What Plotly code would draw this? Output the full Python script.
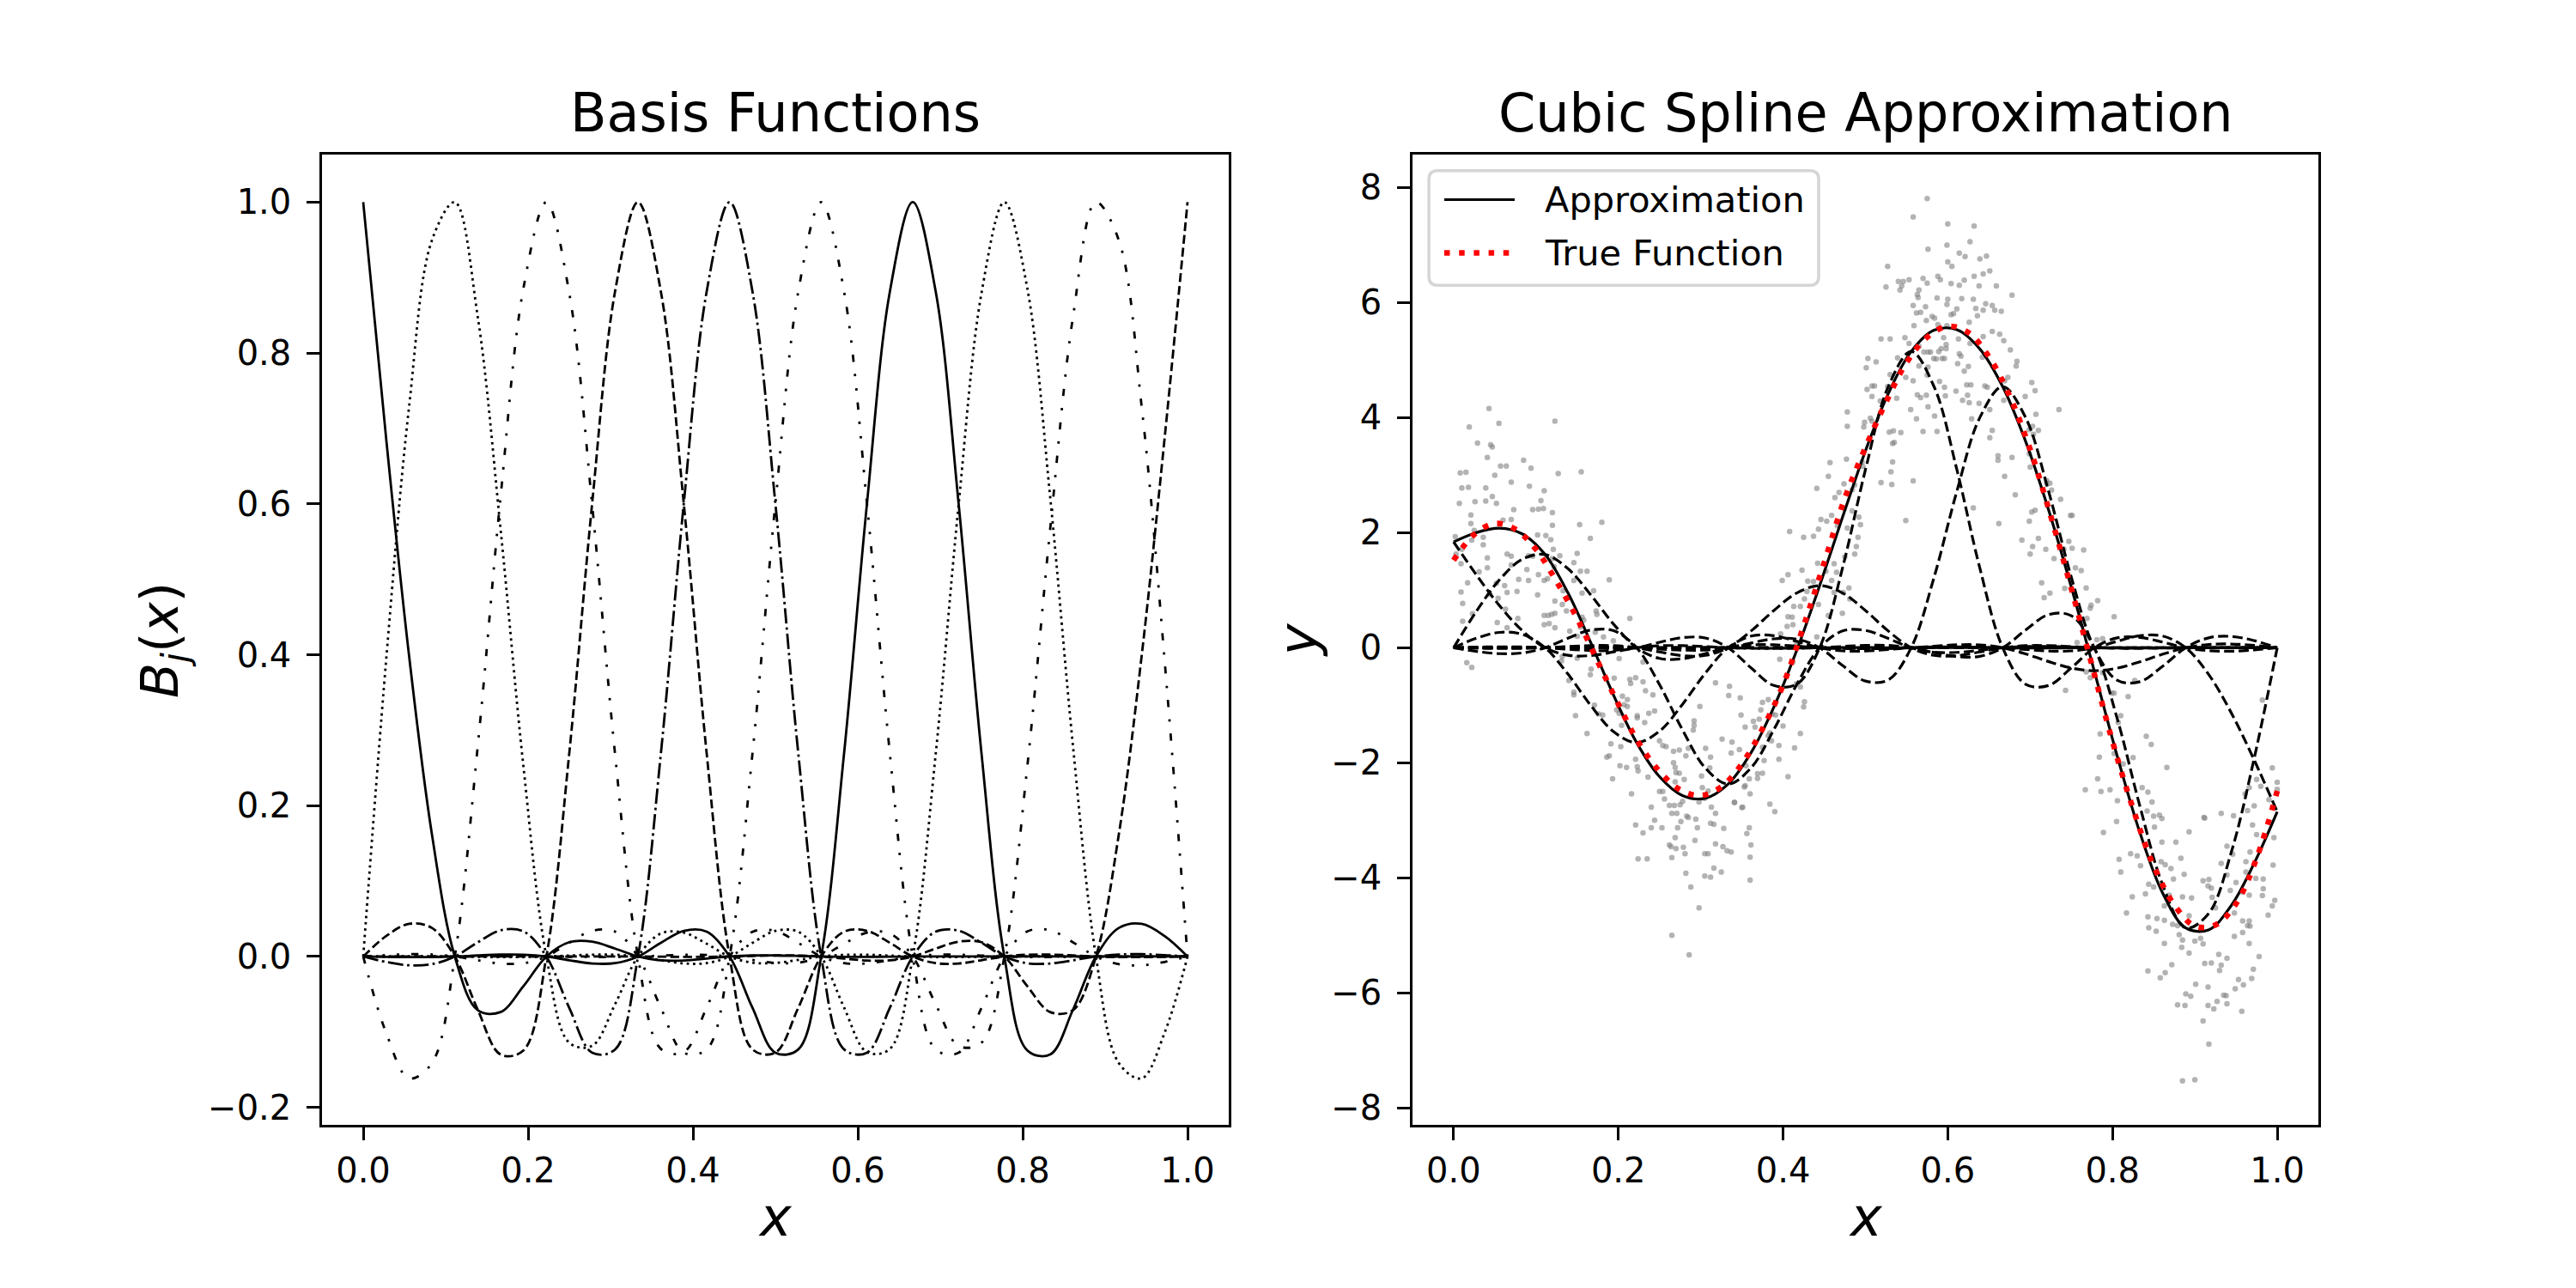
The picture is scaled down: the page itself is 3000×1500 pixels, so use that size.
import plotly.graph_objects as go

# sample positions of the basis curves (knots at j/9, sampled every quarter knot)
x_grid = [i / 36 for i in range(37)]

B0 = [1, 0.6872, 0.3995, 0.1621, 0, -0.0711, -0.0736, -0.0392, 0, 0.0190, 0.0197, 0.0105, 0, -0.0051, -0.0053, -0.0028,
      0, 0.0014, 0.0014, 0.0008, 0, -0.0004, -0.0004, -0.0002, 0, 0.0001, 0.0001, 0.0001, 0, 0, 0, 0, 0, 0, 0, 0, 0]
B1 = [0, 0.3924, 0.7279, 0.9494, 1, 0.8484, 0.5663, 0.2511, 0, -0.1143, -0.1183, -0.0631, 0, 0.0306, 0.0317, 0.0169,
      0, -0.0082, -0.0085, -0.0045, 0, 0.0022, 0.0023, 0.0012, 0, -0.0006, -0.0006, -0.0003, 0, 0.0002, 0.0002, 0.0001, 0, 0, 0, 0, 0]
B2 = [0, -0.1010, -0.1615, -0.1413, 0, 0.2781, 0.6096, 0.8863, 1, 0.8791, 0.5980, 0.2680, 0, -0.1225, -0.1267, -0.0676,
      0, 0.0328, 0.0340, 0.0181, 0, -0.0088, -0.0091, -0.0049, 0, 0.0024, 0.0024, 0.0013, 0, -0.0006, -0.0007, -0.0004, 0, 0.0002, 0.0002, 0.0001, 0]
B3 = [0, 0.0271, 0.0433, 0.0379, 0, -0.0703, -0.1299, -0.1244, 0, 0.2699, 0.6011, 0.8818, 1, 0.8813, 0.6003, 0.2692,
      0, -0.1231, -0.1274, -0.0679, 0, 0.0330, 0.0341, 0.0182, 0, -0.0088, -0.0092, -0.0049, 0, 0.0024, 0.0025, 0.0014, 0, -0.0007, -0.0008, -0.0005, 0]
B4 = [0, -0.0072, -0.0116, -0.0101, 0, 0.0188, 0.0348, 0.0333, 0, -0.0681, -0.1276, -0.1232, 0, 0.2693, 0.6005, 0.8815,
      1, 0.8814, 0.6005, 0.2693, 0, -0.1231, -0.1274, -0.0680, 0, 0.0330, 0.0342, 0.0183, 0, -0.0089, -0.0093, -0.0050, 0, 0.0027, 0.0031, 0.0019, 0]
B5 = [0, 0.0019, 0.0031, 0.0027, 0, -0.0050, -0.0093, -0.0089, 0, 0.0183, 0.0342, 0.0330, 0, -0.0680, -0.1274, -0.1231,
      0, 0.2693, 0.6005, 0.8814, 1, 0.8815, 0.6005, 0.2693, 0, -0.1232, -0.1276, -0.0681, 0, 0.0333, 0.0348, 0.0188, 0, -0.0101, -0.0116, -0.0072, 0]
B6 = [0, -0.0005, -0.0008, -0.0007, 0, 0.0014, 0.0025, 0.0024, 0, -0.0049, -0.0092, -0.0088, 0, 0.0182, 0.0341, 0.0330,
      0, -0.0679, -0.1274, -0.1231, 0, 0.2692, 0.6003, 0.8813, 1, 0.8818, 0.6011, 0.2699, 0, -0.1244, -0.1299, -0.0703, 0, 0.0379, 0.0433, 0.0271, 0]
B7 = [0, 0.0001, 0.0002, 0.0002, 0, -0.0004, -0.0007, -0.0006, 0, 0.0013, 0.0024, 0.0024, 0, -0.0049, -0.0091, -0.0088,
      0, 0.0181, 0.0340, 0.0328, 0, -0.0676, -0.1267, -0.1225, 0, 0.2680, 0.5980, 0.8791, 1, 0.8863, 0.6096, 0.2781, 0, -0.1413, -0.1615, -0.1010, 0]
B8 = [0, 0, 0, 0, 0, 0.0001, 0.0002, 0.0002, 0, -0.0003, -0.0006, -0.0006, 0, 0.0012, 0.0023, 0.0022,
      0, -0.0045, -0.0085, -0.0082, 0, 0.0169, 0.0317, 0.0306, 0, -0.0631, -0.1183, -0.1143, 0, 0.2511, 0.5663, 0.8484, 1, 0.9494, 0.7279, 0.3924, 0]
B9 = [0, 0, 0, 0, 0, 0, 0, 0, 0, 0.0001, 0.0001, 0.0001, 0, -0.0002, -0.0004, -0.0004,
      0, 0.0008, 0.0014, 0.0014, 0, -0.0028, -0.0053, -0.0051, 0, 0.0105, 0.0197, 0.0190, 0, -0.0392, -0.0736, -0.0711, 0, 0.1621, 0.3995, 0.6872, 1]
basis = [B0, B1, B2, B3, B4, B5, B6, B7, B8, B9]

# fitted coefficients (value of the approximation at each knot)
coefs = [1.84, 1.62, -1.65, -2.37, 1.08, 5.15, 4.54, -0.40, -4.87, -2.85]

# true function
true_x = [i / 40 for i in range(41)]
true_y = [1.52, 1.97, 2.16, 2.06, 1.71, 1.15, 0.51, -0.24, -0.98, -1.66, -2.15, -2.47, -2.57, -2.42, -2.02, -1.41,
          -0.65, 0.38, 1.48, 2.60, 3.48, 4.27, 4.96, 5.40, 5.59, 5.48, 5.06, 4.38, 3.45, 2.29, 1.03, -0.30,
          -1.63, -2.80, -3.79, -4.47, -4.84, -4.82, -4.45, -3.66, -2.49]

# noisy observations
samples = [
    (0.043, 4.16), (0.019, 3.84), (0.055, 3.90), (0.123, 3.94), (0.029, 3.56), (0.045, 3.53), (0.047, 3.49), (0.041, 3.31),
    (0.085, 3.26), (0.008, 3.04), (0.015, 3.05), (0.057, 3.16), (0.064, 3.16), (0.094, 3.12), (0.127, 3.03), (0.155, 3.06),
    (0.050, 3.00), (0.070, 2.88), (0.010, 2.78), (0.018, 2.79), (0.039, 2.78), (0.092, 2.81), (0.110, 2.73), (0.047, 2.63),
    (0.026, 2.54), (0.039, 2.55), (0.052, 2.51), (0.106, 2.56), (0.007, 2.51), (0.073, 2.40), (0.096, 2.40), (0.103, 2.41),
    (0.109, 2.42), (0.120, 2.35), (0.021, 2.31), (0.180, 2.18), (0.153, 2.14), (0.120, 2.13), (0.070, 2.23), (0.021, 2.16),
    (0.025, 2.04), (0.060, 2.22), (0.166, 1.90), (0.102, 1.96), (0.112, 1.95), (0.118, 1.88), (0.002, 1.93), (0.022, 1.87),
    (0.036, 1.92), (0.036, 1.79), (0.010, 1.71), (0.003, 1.63), (0.009, 1.46), (0.041, 1.56), (0.065, 1.63), (0.070, 1.59),
    (0.091, 1.60), (0.096, 1.59), (0.150, 1.64), (0.129, 1.60), (0.120, 1.55), (0.146, 1.48), (0.154, 1.33), (0.162, 1.33),
    (0.041, 1.39), (0.031, 1.32), (0.070, 1.44), (0.089, 1.36), (0.103, 1.27), (0.121, 1.71), (0.122, 1.41), (0.079, 1.19),
    (0.091, 1.17), (0.110, 1.17), (0.114, 1.20), (0.189, 1.18), (0.017, 1.13), (0.062, 1.08), (0.052, 1.12), (0.146, 1.17),
    (0.156, 0.95), (0.170, 0.99), (0.054, 0.86), (0.065, 0.96), (0.077, 0.98), (0.102, 0.92), (0.133, 0.99), (0.009, 0.97),
    (0.011, 0.77), (0.044, 0.93), (0.123, 0.81), (0.132, 0.75), (0.137, 0.64), (0.023, 0.59), (0.011, 0.46), (0.063, 0.67),
    (0.110, 0.56), (0.115, 0.56), (0.119, 0.58), (0.123, 0.60), (0.156, 0.53), (0.158, 0.48), (0.173, 0.64), (0.174, 0.58),
    (0.214, 0.51), (0.110, 0.40), (0.116, 0.42), (0.078, 0.51), (0.053, 0.44), (0.065, 0.35), (0.141, 0.29), (0.154, 0.36),
    (0.123, 0.35), (0.172, 0.27), (0.150, 0.20), (0.182, 0.19), (0.194, 0.12),
    (0.441, 0.19), (0.426, 0.85), (0.429, 0.98), (0.399, 1.17), (0.406, 1.27), (0.423, 1.35), (0.430, 1.16), (0.437, 1.15),
    (0.442, 1.47), (0.452, 1.33), (0.459, 1.17), (0.465, 1.31), (0.462, 1.46), (0.475, 1.58), (0.487, 1.63), (0.489, 1.76),
    (0.425, 1.92), (0.437, 1.94), (0.443, 2.06), (0.408, 2.02), (0.446, 2.23), (0.453, 2.20), (0.441, 2.77), (0.455, 2.98),
    (0.457, 3.22), (0.477, 3.28), (0.487, 2.83), (0.484, 2.75), (0.474, 2.85), (0.468, 2.70), (0.463, 2.61), (0.459, 2.30),
    (0.466, 2.12), (0.484, 2.38), (0.492, 2.27), (0.494, 2.14), (0.478, 2.08), (0.491, 1.92), (0.496, 3.23), (0.497, 3.15),
    (0.478, 3.85), (0.478, 4.10), (0.498, 3.84), (0.499, 3.92), (0.472, 0.60), (0.473, 0.96), (0.480, 1.04), (0.481, 0.85),
    (0.443, 0.75), (0.455, 0.56), (0.462, 0.96), (0.413, 0.72), (0.421, 0.72), (0.411, 0.53), (0.406, 0.54), (0.412, 0.40),
    (0.405, 0.37), (0.397, 0.24), (0.416, 0.05),
    (0.016, -0.26), (0.022, -0.34), (0.131, -0.23), (0.140, -0.57), (0.146, -0.77), (0.146, -0.82), (0.148, -1.18), (0.162, -1.49),
    (0.167, -0.37), (0.166, -0.47), (0.150, -0.18), (0.171, -1.00), (0.181, -1.17), (0.176, -1.15), (0.195, -0.53), (0.201, -0.19),
    (0.230, -0.25), (0.233, -0.75), (0.242, -0.82), (0.214, -0.55), (0.215, -0.62), (0.221, -0.52), (0.230, -0.59), (0.205, -0.84),
    (0.211, -0.90), (0.207, -0.99), (0.211, -1.02), (0.198, -1.08), (0.201, -1.14), (0.223, -1.18), (0.223, -1.22), (0.232, -1.30),
    (0.237, -1.14), (0.244, -1.10), (0.204, -1.35), (0.191, -1.67), (0.203, -1.72), (0.189, -1.88), (0.186, -1.90), (0.202, -2.05),
    (0.210, -2.08), (0.221, -1.94), (0.223, -2.07), (0.224, -2.14), (0.193, -2.28), (0.236, -2.25), (0.250, -1.62), (0.254, -1.70),
    (0.258, -1.72), (0.267, -1.80), (0.274, -1.78), (0.285, -1.75), (0.282, -1.88), (0.292, -1.27), (0.291, -1.43), (0.292, -1.35),
    (0.299, -1.02), (0.306, -1.75), (0.312, -1.90), (0.267, -2.00), (0.269, -2.08), (0.270, -2.17), (0.274, -2.18), (0.280, -2.29),
    (0.269, -2.33), (0.301, -2.23), (0.311, -2.09), (0.338, -1.64), (0.337, -1.83), (0.347, -1.77), (0.326, -1.59), (0.355, -2.05),
    (0.359, -2.28), (0.349, -1.17), (0.348, -0.87), (0.334, -0.83), (0.335, -0.67), (0.318, -0.61), (0.354, -1.38), (0.364, -1.28),
    (0.366, -1.38), (0.371, -1.24), (0.373, -1.08), (0.375, -0.95), (0.382, -0.90), (0.387, -1.15), (0.384, -1.48), (0.382, -1.53),
    (0.375, -1.73), (0.377, -1.96), (0.386, -1.62), (0.391, -1.17), (0.395, -1.70), (0.395, -1.94), (0.400, -1.36), (0.396, -0.20),
    (0.414, -1.74), (0.421, -1.49), (0.425, -1.03), (0.426, -0.94), (0.406, -2.24), (0.369, -2.19), (0.369, -2.27), (0.375, -2.18),
    (0.360, -2.54), (0.354, -2.40), (0.384, -2.72), (0.390, -2.85), (0.341, -2.69), (0.351, -2.77), (0.216, -2.54), (0.221, -3.08),
    (0.230, -3.22), (0.240, -3.13), (0.244, -3.00), (0.240, -2.77), (0.253, -3.13), (0.250, -2.50), (0.254, -2.50), (0.256, -2.63),
    (0.262, -2.74), (0.268, -2.74), (0.265, -2.88), (0.271, -2.88), (0.275, -2.73), (0.278, -2.67), (0.283, -2.93), (0.285, -2.95),
    (0.294, -2.98), (0.276, -3.02), (0.272, -3.13), (0.296, -3.13), (0.269, -3.30), (0.262, -3.43), (0.264, -3.46), (0.270, -3.49),
    (0.279, -3.47), (0.281, -3.58), (0.265, -3.65), (0.224, -3.67), (0.235, -3.67), (0.293, -3.35), (0.305, -3.58), (0.309, -3.58),
    (0.318, -3.41), (0.327, -3.46), (0.332, -3.53), (0.337, -3.55), (0.328, -3.14), (0.312, -3.05), (0.316, -3.07), (0.318, -2.88),
    (0.313, -2.77), (0.359, -3.13), (0.356, -3.23), (0.361, -3.43), (0.360, -3.64), (0.360, -4.04), (0.316, -3.83), (0.325, -3.90),
    (0.305, -3.97), (0.312, -3.99), (0.282, -3.92), (0.288, -4.16), (0.298, -4.52), (0.265, -5.00), (0.286, -5.34), (0.305, -2.62),
    (0.298, -2.68), (0.302, -2.43), (0.309, -2.49), (0.341, -2.69), (0.353, -2.42), (0.350, -2.78), (0.132, -0.15), (0.421, -0.68),
    (0.416, -0.63), (0.412, -0.25),
    (0.575, 7.81), (0.558, 7.49), (0.600, 7.37), (0.632, 7.33), (0.627, 7.06), (0.576, 6.93), (0.599, 7.00), (0.614, 6.86),
    (0.621, 6.80), (0.639, 6.76), (0.647, 6.81), (0.605, 6.63), (0.600, 6.71), (0.527, 6.63), (0.525, 6.27), (0.540, 6.37),
    (0.546, 6.37), (0.553, 6.40), (0.542, 6.22), (0.544, 6.29), (0.570, 6.42), (0.575, 6.34), (0.588, 6.46), (0.591, 6.40),
    (0.604, 6.33), (0.614, 6.30), (0.620, 6.39), (0.638, 6.29), (0.651, 6.55), (0.643, 6.50), (0.632, 6.46), (0.659, 6.29),
    (0.678, 6.13), (0.565, 6.22), (0.563, 6.14), (0.564, 6.09), (0.587, 6.08), (0.600, 6.06), (0.599, 5.97), (0.617, 6.07),
    (0.631, 6.06), (0.558, 5.95), (0.573, 5.93), (0.562, 5.82), (0.567, 5.83), (0.581, 5.76), (0.584, 5.73), (0.574, 5.69),
    (0.607, 5.81), (0.604, 5.79), (0.611, 5.89), (0.634, 5.90), (0.636, 5.77), (0.643, 5.87), (0.646, 5.98), (0.654, 5.95),
    (0.657, 5.87), (0.665, 5.85), (0.626, 5.66), (0.559, 5.60), (0.588, 5.62), (0.599, 5.60), (0.519, 5.37), (0.530, 5.37),
    (0.548, 5.39), (0.553, 5.29), (0.595, 5.39), (0.598, 5.27), (0.613, 5.37), (0.627, 5.29), (0.643, 5.41), (0.654, 5.50),
    (0.663, 5.45), (0.668, 5.34), (0.592, 5.20), (0.589, 5.15), (0.598, 5.20), (0.571, 5.14), (0.576, 5.14), (0.565, 5.24),
    (0.579, 5.14), (0.583, 5.03), (0.586, 5.02), (0.593, 5.03), (0.596, 5.03), (0.614, 5.11), (0.616, 5.07), (0.676, 5.18),
    (0.503, 5.03), (0.513, 4.97), (0.501, 4.87), (0.539, 5.04), (0.530, 4.75), (0.527, 4.54), (0.549, 4.70), (0.558, 4.64),
    (0.565, 4.90), (0.575, 4.74), (0.576, 4.88), (0.620, 4.81), (0.625, 4.89), (0.612, 4.94), (0.642, 5.05), (0.684, 4.98),
    (0.683, 4.90), (0.590, 4.63), (0.596, 4.53), (0.610, 4.46), (0.623, 4.57), (0.628, 4.57), (0.645, 4.55), (0.648, 4.53),
    (0.673, 4.70), (0.669, 4.64), (0.702, 4.61), (0.706, 4.47), (0.502, 4.49), (0.508, 4.55), (0.511, 4.55), (0.508, 4.37),
    (0.518, 4.29), (0.538, 4.34), (0.563, 4.40), (0.567, 4.35), (0.574, 4.39), (0.597, 4.38), (0.618, 4.30), (0.624, 4.39),
    (0.626, 4.26), (0.638, 4.25), (0.651, 4.14), (0.668, 4.30), (0.694, 4.37), (0.735, 4.14), (0.555, 4.14), (0.576, 4.19),
    (0.584, 4.03), (0.562, 3.98), (0.506, 3.99), (0.508, 3.94), (0.529, 3.75), (0.534, 3.77), (0.543, 3.74), (0.533, 3.55),
    (0.535, 3.57), (0.570, 3.76), (0.587, 3.76), (0.629, 3.98), (0.707, 4.06), (0.699, 3.79), (0.703, 3.85), (0.710, 3.78),
    (0.704, 3.71), (0.654, 3.78), (0.651, 3.65), (0.661, 3.34), (0.661, 3.26), (0.678, 3.31), (0.699, 3.37), (0.700, 3.14),
    (0.669, 2.98), (0.682, 2.66), (0.702, 2.36), (0.706, 2.39), (0.699, 2.20), (0.631, 2.43), (0.662, 2.16), (0.690, 1.87),
    (0.710, 1.90), (0.703, 1.76), (0.700, 1.63), (0.719, 1.71), (0.729, 1.55), (0.741, 1.71), (0.747, 1.85), (0.751, 1.73),
    (0.765, 1.70), (0.714, 1.13), (0.724, 0.95), (0.717, 0.87), (0.737, 2.58), (0.749, 2.30), (0.751, 2.30), (0.755, 1.39),
    (0.762, 1.34), (0.768, 1.04), (0.774, 0.74), (0.782, 0.82), (0.773, 0.69), (0.769, 0.51), (0.802, 0.54), (0.724, 2.86),
    (0.726, 2.74), (0.720, 2.86), (0.720, 2.91), (0.549, 2.21), (0.519, 2.87), (0.532, 2.84), (0.558, 2.90), (0.531, 3.06),
    (0.533, 3.23), (0.757, 0.09), (0.781, 0.14), (0.788, 0.16), (0.742, 1.03),
    (0.743, -0.74), (0.768, -0.42), (0.773, -0.52), (0.788, -0.43), (0.799, -0.79), (0.802, -0.79), (0.819, -0.85), (0.827, -0.57),
    (0.785, -1.50), (0.784, -1.90), (0.782, -2.28), (0.767, -2.47), (0.786, -2.50), (0.797, -2.47), (0.806, -2.66), (0.805, -3.02),
    (0.789, -3.21), (0.802, -1.84), (0.813, -2.02), (0.810, -1.18), (0.807, -1.30), (0.841, -1.54), (0.847, -1.68), (0.825, -1.91),
    (0.836, -2.43), (0.843, -2.51), (0.848, -2.68), (0.842, -2.84), (0.850, -2.93), (0.857, -2.91), (0.860, -2.97), (0.851, -3.12),
    (0.860, -3.38), (0.877, -3.38), (0.866, -2.08), (0.893, -3.20), (0.883, -3.66), (0.887, -3.94), (0.874, -4.02), (0.822, -3.58),
    (0.830, -3.62), (0.808, -3.68), (0.810, -3.90), (0.834, -3.79), (0.859, -3.72), (0.864, -3.77), (0.871, -3.84), (0.844, -4.11),
    (0.850, -4.16), (0.840, -4.28), (0.824, -4.33), (0.817, -4.61), (0.843, -4.68), (0.854, -4.71), (0.863, -4.74), (0.873, -4.81),
    (0.863, -4.49), (0.869, -4.30), (0.885, -4.33), (0.896, -4.35), (0.910, -4.05), (0.917, -4.03), (0.916, -4.14), (0.920, -4.18),
    (0.911, -2.95), (0.932, -2.88), (0.947, -2.92), (0.939, -3.45), (0.946, -3.59), (0.932, -3.75), (0.939, -3.95), (0.950, -4.08),
    (0.925, -4.52), (0.921, -4.34), (0.943, -4.22), (0.948, -4.61), (0.958, -4.75), (0.966, -4.75), (0.964, -4.83), (0.967, -4.84),
    (0.958, -4.95), (0.948, -5.02), (0.966, -5.14), (0.978, -5.37), (0.971, -5.59), (0.969, -5.75), (0.959, -5.86), (0.953, -5.77),
    (0.949, -5.93), (0.939, -6.19), (0.957, -6.32), (0.935, -6.04), (0.938, -6.05), (0.932, -5.52), (0.930, -5.61), (0.927, -6.15),
    (0.923, -6.28), (0.916, -6.22), (0.910, -6.49), (0.917, -6.89), (0.916, -5.90), (0.901, -5.85), (0.895, -6.06), (0.889, -6.02),
    (0.888, -6.22), (0.879, -6.21), (0.872, -5.51), (0.864, -5.65), (0.858, -5.74), (0.843, -5.62), (0.920, -5.48), (0.912, -5.49),
    (0.929, -5.33), (0.939, -5.40), (0.893, -5.31), (0.910, -5.15), (0.900, -5.10), (0.907, -5.05), (0.884, -5.21), (0.885, -5.08),
    (0.881, -4.99), (0.879, -4.83), (0.853, -4.93), (0.844, -4.87), (0.863, -5.14), (0.958, -4.25), (0.962, -3.90), (0.962, -3.72),
    (0.967, -3.55), (0.975, -3.25), (0.970, -3.08), (0.964, -2.83), (0.972, -2.75), (0.961, -2.54), (0.966, -2.43), (0.975, -2.29),
    (0.980, -2.41), (0.982, -0.91), (0.994, -2.09), (1.000, -2.34), (1.000, -2.46), (0.990, -2.64), (0.996, -3.30), (0.995, -3.78),
    (0.997, -4.39), (0.994, -4.49), (0.989, -4.65), (0.982, -4.31), (0.983, -4.19), (0.983, -4.02), (0.974, -4.01), (0.966, -4.30),
    (0.885, -7.53), (0.900, -7.51), (0.912, -2.96), (0.893, -4.66),
]

FONT = "DejaVu Sans"
LW_LEFT = 2.8
# matplotlib-like dash patterns: solid, dotted, dashdotted, dashed, dashdot, dashdotdotted
left_dashes = ["solid", "2.8px,4.6px", "8.4px,14px,2.8px,14px", "10.4px,4.5px",
               "17.9px,4.5px,2.8px,4.5px", "8.4px,14px,2.8px,14px,2.8px,14px"]

fig = go.Figure()

for j, b in enumerate(basis):
    fig.add_trace(go.Scatter(
        x=x_grid, y=b, mode="lines",
        line=dict(color="black", width=LW_LEFT, dash=left_dashes[j % 6], shape="spline"),
        xaxis="x", yaxis="y", showlegend=False, hoverinfo="skip"))

sx, sy = zip(*samples)
fig.add_trace(go.Scatter(
    x=sx, y=sy, mode="markers",
    marker=dict(size=6.5, color="rgba(128,128,128,0.6)", line=dict(width=0)),
    xaxis="x2", yaxis="y2", showlegend=False, hoverinfo="skip"))

approx = [0.0] * len(x_grid)
for c, b in zip(coefs, basis):
    scaled = [c * v for v in b]
    approx = [a + s for a, s in zip(approx, scaled)]
    fig.add_trace(go.Scatter(
        x=x_grid, y=scaled, mode="lines",
        line=dict(color="black", width=3.2, dash="11.8px,5.1px", shape="spline"),
        xaxis="x2", yaxis="y2", showlegend=False, hoverinfo="skip"))

fig.add_trace(go.Scatter(
    x=x_grid, y=approx, mode="lines", name="Approximation",
    line=dict(color="black", width=3.2, shape="spline"),
    xaxis="x2", yaxis="y2", showlegend=False, hoverinfo="skip"))

fig.add_trace(go.Scatter(
    x=true_x, y=true_y, mode="lines", name="True Function",
    line=dict(color="red", width=6.5, dash="6.5px,10.7px", shape="spline"),
    xaxis="x2", yaxis="y2", showlegend=False, hoverinfo="skip"))

tick_font = dict(family=FONT, size=40, color="black")
common = dict(showline=True, mirror=True, linecolor="black", linewidth=3.3,
              ticks="outside", ticklen=14.6, tickwidth=3.3, tickcolor="black",
              showgrid=False, zeroline=False, tickfont=tick_font)

xt = [0, 0.2, 0.4, 0.6, 0.8, 1.0]
xt_text = ["0.0", "0.2", "0.4", "0.6", "0.8", "1.0"]
yt_left = [-0.2, 0, 0.2, 0.4, 0.6, 0.8, 1.0]
yt_left_text = ["\u22120.2", "0.0", "0.2", "0.4", "0.6", "0.8", "1.0"]
yt_right = [-8, -6, -4, -2, 0, 2, 4, 6, 8]
yt_right_text = [("\u2212" + str(-v)) if v < 0 else str(v) for v in yt_right]

y_dom = [0.1247, 0.88]
fig.update_layout(
    width=3000, height=1500,
    margin=dict(l=0, r=0, t=0, b=0),
    paper_bgcolor="white", plot_bgcolor="white",
    font=dict(family=FONT, color="black"),
    xaxis=dict(domain=[0.125, 0.477], range=[-0.05, 1.05], tickvals=xt, ticktext=xt_text, anchor="y",
               ticklabelstandoff=1, **common),
    yaxis=dict(domain=y_dom, range=[-0.2235, 1.0635], tickvals=yt_left, ticktext=yt_left_text, anchor="x",
               ticklabelstandoff=10, **common),
    xaxis2=dict(domain=[0.5483, 0.9], range=[-0.05, 1.05], tickvals=xt, ticktext=xt_text, anchor="y2",
                ticklabelstandoff=1, **common),
    yaxis2=dict(domain=y_dom, range=[-8.30, 8.58], tickvals=yt_right, ticktext=yt_right_text, anchor="x2",
                ticklabelstandoff=10, **common),
    showlegend=False,
)

def label(text, x, y, size, angle=0, xanchor="center"):
    fig.add_annotation(text=text, x=x, y=y, xref="paper", yref="paper", showarrow=False,
                       xanchor=xanchor, yanchor="middle", textangle=angle,
                       font=dict(family=FONT, size=size, color="black"))

label("Basis Functions", 0.301, 0.912, 62)
label("Cubic Spline Approximation", 0.7242, 0.912, 62)
label("<i>x</i>", 0.301, 0.0533, 62)
label("<i>x</i>", 0.7242, 0.0533, 62)
label("<i>B</i><sub><i>j</i></sub>(<i>x</i>)", 0.0633, 0.5023, 60, angle=-90)
label("<i>y</i>", 0.5037, 0.5023, 62, angle=-90)

# legend box (upper left of right panel)
lx0, lx1, ly0, ly1 = 0.5547, 0.706, 0.778, 0.8673
rx, ry = 10 / 3000, 10 / 1500
path = (f"M {lx0 + rx},{ly1} L {lx1 - rx},{ly1} Q {lx1},{ly1} {lx1},{ly1 - ry} "
        f"L {lx1},{ly0 + ry} Q {lx1},{ly0} {lx1 - rx},{ly0} L {lx0 + rx},{ly0} "
        f"Q {lx0},{ly0} {lx0},{ly0 + ry} L {lx0},{ly1 - ry} Q {lx0},{ly1} {lx0 + rx},{ly1} Z")
fig.add_shape(type="path", path=path, xref="paper", yref="paper",
              line=dict(color="#d5d5d5", width=3.5), fillcolor="rgba(255,255,255,0.8)")
row1, row2 = 0.8447, 0.8033
fig.add_shape(type="line", x0=1682 / 3000, x1=1764 / 3000, y0=row1, y1=row1, xref="paper", yref="paper",
              line=dict(color="black", width=3.2))
fig.add_shape(type="line", x0=1682 / 3000, x1=1764 / 3000, y0=row2, y1=row2, xref="paper", yref="paper",
              line=dict(color="red", width=6.5, dash="6.5px,10.7px"))
label("Approximation", 1797 / 3000, row1, 41.5, xanchor="left")
label("True Function", 1797 / 3000, row2, 41.5, xanchor="left")

fig.write_html("out.html", config={"displayModeBar": False},
               post_script="document.body.style.margin='0';")
